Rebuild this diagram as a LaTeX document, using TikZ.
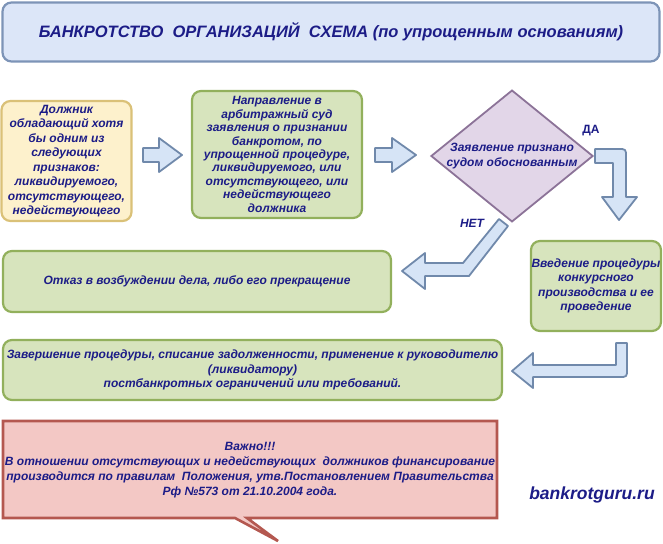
\documentclass[tikz,border=0pt]{standalone}
\usepackage{fontspec}
\setmainfont{Liberation Sans}
\usetikzlibrary{shapes.geometric}

\definecolor{ink}{RGB}{28,28,135}
\definecolor{titlefill}{RGB}{220,230,248}
\definecolor{titleline}{RGB}{125,148,183}
\definecolor{yelfill}{RGB}{253,241,204}
\definecolor{yelline}{RGB}{218,193,120}
\definecolor{grnfill}{RGB}{215,228,189}
\definecolor{grnline}{RGB}{146,176,92}
\definecolor{lilfill}{RGB}{226,214,232}
\definecolor{lilline}{RGB}{140,115,152}
\definecolor{arrfill}{RGB}{214,228,246}
\definecolor{arrline}{RGB}{112,137,171}
\definecolor{notefill}{RGB}{243,200,197}
\definecolor{noteline}{RGB}{180,88,80}

\begin{document}
\begin{tikzpicture}[x=1pt,y=-1pt,
	txt/.style={text=ink,font=\bfseries\itshape\fontsize{12}{14.5}\selectfont,align=center,inner sep=0pt},
	box/.style={txt,draw,line width=2.2pt,rounded corners=9pt},
	ybox/.style={box,draw=yelline,fill=yelfill},
	gbox/.style={box,draw=grnline,fill=grnfill},
	barrow/.style={draw=arrline,fill=arrfill,line width=1.8pt,line join=round}]
	\useasboundingbox (0,0) rectangle (663,543);
	% header
	\node[box,draw=titleline,fill=titlefill,minimum width=657pt,minimum height=59pt,font=\bfseries\itshape\fontsize{16.5}{19}\selectfont] (title) at (331,32) {БАНКРОТСТВО~~ОРГАНИЗАЦИЙ~~СХЕМА (по упрощенным основаниям)};
	% first row
	\node[ybox,minimum width=130pt,minimum height=120pt] (debtor) at (66.5,161) {Должник\\обладающий хотя\\бы одним из\\следующих\\признаков:\\ликвидируемого,\\отсутствующего,\\недействующего};
	\node[gbox,minimum width=170pt,minimum height=127pt,font=\bfseries\itshape\fontsize{12}{13.4}\selectfont] (claim) at (277,154.5) {Направление в\\арбитражный суд\\заявления о признании\\банкротом, по\\упрощенной процедуре,\\ликвидируемого, или\\отсутствующего, или\\недействующего\\должника};
	\node[txt,shape=diamond,draw=lilline,fill=lilfill,line width=1.8pt,aspect=1.23,minimum width=161pt,minimum height=131pt] (check) at (512,156) {Заявление признано\\судом обоснованным};
	\draw[barrow] (143,148) -- (159,148) -- (159,138) -- (182,155) -- (159,172) -- (159,162) -- (143,162) -- cycle;
	\draw[barrow] (375,148) -- (392,148) -- (392,138) -- (416,155) -- (392,172) -- (392,162) -- (375,162) -- cycle;
	% yes / no
	\node[txt,font=\bfseries\fontsize{12}{14}\selectfont] (yes) at (591,131) {ДА};
	\node[txt] (no) at (472,223) {НЕТ};
	\draw[barrow] (595,149) -- (618,149) .. controls (626,149) .. (626,157) -- (626,197) -- (637,197) -- (619,220) -- (602,197) -- (613,197) -- (613,163) -- (595,163) -- cycle;
	\draw[barrow] (402,271) -- (425,253) -- (425,263) -- (463,263) -- (499,219) -- (508,226) -- (469,276) -- (425,276) -- (425,289) -- cycle;
	% second row
	\node[gbox,minimum width=388pt,minimum height=61pt] (refuse) at (197,281.5) {Отказ в возбуждении дела, либо его прекращение};
	\node[gbox,minimum width=130pt,minimum height=90pt] (proc) at (596,286) {Введение процедуры\\конкурсного\\производства и ее\\проведение};
	\draw[barrow] (616,343) -- (627,343) -- (627,369) .. controls (627,377) .. (619,377) -- (533,377) -- (533,388) -- (512,371) -- (533,353) -- (533,365) -- (616,365) -- cycle;
	\node[gbox,minimum width=499pt,minimum height=60pt] (finish) at (252.5,370) {Завершение процедуры, списание задолженности, применение к руководителю\\(ликвидатору)\\постбанкротных ограничений или требований.};
	% note
	\draw[draw=noteline,fill=notefill,line width=2.6pt] (3,421) -- (497,421) -- (497,518) -- (247,518) -- (278,541) -- (235,518) -- (3,518) -- cycle;
	\node[txt,font=\bfseries\itshape\fontsize{12}{15}\selectfont] (note) at (250,470) {Важно!!!\\В отношении отсутствующих и недействующих~~должников финансирование\\производится по правилам~~Положения, утв.Постановлением Правительства\\Рф №573 от 21.10.2004 года.};
	\node[txt,font=\bfseries\itshape\fontsize{17.5}{20}\selectfont] (site) at (592,495) {bankrotguru.ru};
\end{tikzpicture}
\end{document}
